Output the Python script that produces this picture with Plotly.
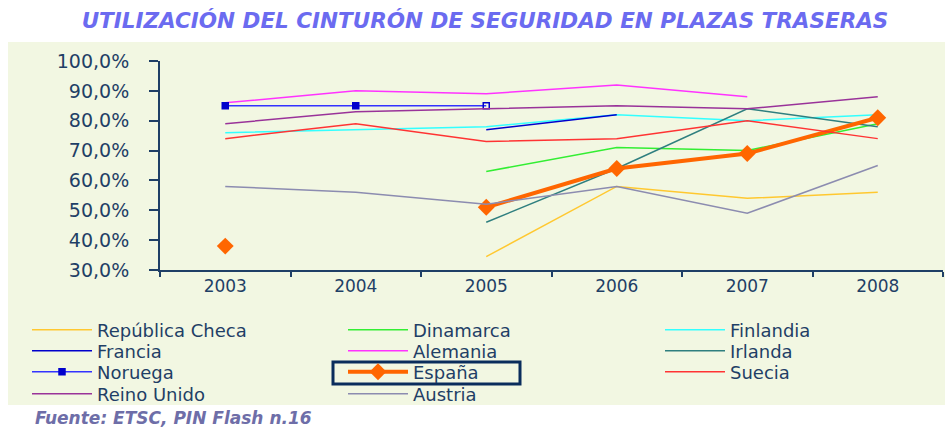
import plotly.graph_objects as go

years = ["2003", "2004", "2005", "2006", "2007", "2008"]
y_ticks = [30, 40, 50, 60, 70, 80, 90, 100]
y_tick_labels = ["30,0%", "40,0%", "50,0%", "60,0%", "70,0%", "80,0%", "90,0%", "100,0%"]

republica_checa = [None, None, 34.5, 58, 54, 56]
dinamarca = [None, None, 63, 71, 70, 79]
finlandia = [76, 77, 78, 82, 80, 82]
francia = [None, None, 77, 82, None, None]
alemania = [86, 90, 89, 92, 88, None]
irlanda = [None, None, 46, 64, 84, 78]
noruega = [85, 85, 85, None, None, None]
espana = [38, None, 51, 64, 69, 81]
suecia = [74, 79, 73, 74, 80, 74]
reino_unido = [79, 83, 84, 85, 84, 88]
austria = [58, 56, 52, 58, 49, 65]

TXT = "#1F3F66"
FONT = "DejaVu Sans"

W, H = 948, 428
ML, MR, MT, MB = 160, 5, 61, 158
PW = W - ML - MR
PH = H - MT - MB


def px_x(p):
    return (p - ML) / PW


def px_y(p):
    return (H - MB - p) / PH


# legend grid (pixel positions of each entry: left edge of legend box, row centre)
LEG_COLS = [27, 343, 660]
LEG_ROWS = [330, 351, 372, 394]

fig = go.Figure()
legend_layouts = {}
count = [0]


def add(name, vals, color, col, row, width=1.5, **kw):
    count[0] += 1
    lname = "legend" if count[0] == 1 else "legend%d" % count[0]
    fig.add_trace(go.Scatter(
        x=years, y=vals, name=name, mode=kw.pop("mode", "lines"),
        line=dict(color=color, width=width), legend=lname, showlegend=True, **kw))
    legend_layouts[lname] = dict(
        x=px_x(LEG_COLS[col]), y=px_y(LEG_ROWS[row]),
        xanchor="left", yanchor="middle", orientation="v", itemwidth=60,
        font=dict(family=FONT, size=18, color=TXT), bgcolor="rgba(0,0,0,0)",
        borderwidth=0, visible=True,
    )


add("República Checa", republica_checa, "#FFC830", 0, 0)
add("Dinamarca", dinamarca, "#33EE33", 1, 0)
add("Finlandia", finlandia, "#33FFFF", 2, 0)
add("Francia", francia, "#0000CC", 0, 1)
add("Alemania", alemania, "#FF33FF", 1, 1)
add("Irlanda", irlanda, "#2F7F7F", 2, 1)
add("Noruega", noruega, "#3333FF", 0, 2, mode="lines+markers",
    marker=dict(symbol=["square", "square", "square-open"], size=6,
                color="#0000CC", line=dict(color="#0000CC", width=1.5)))
add("España", espana, "#FF6600", 1, 2, width=4, mode="lines+markers",
    marker=dict(symbol="diamond", size=13, color="#FF6600"))
add("Suecia", suecia, "#FF3333", 2, 2)
add("Reino Unido", reino_unido, "#993399", 0, 3)
add("Austria", austria, "#8C8CB0", 1, 3)

fig.update_layout(
    width=W, height=H, autosize=False, showlegend=True,
    margin=dict(l=ML, r=MR, t=MT, b=MB, autoexpand=False),
    paper_bgcolor="white", plot_bgcolor="rgba(0,0,0,0)",
    title=dict(
        text="UTILIZACIÓN DEL CINTURÓN DE SEGURIDAD EN PLAZAS TRASERAS",
        xref="container", yref="container", x=485 / W, y=1 - 20 / H,
        xanchor="center", yanchor="middle",
        font=dict(family=FONT, size=21.5, color="#6B6BF0", weight="bold", style="italic"),
    ),
    xaxis=dict(
        type="category", range=[-0.5, 5.5], tickson="boundaries",
        ticks="outside", ticklen=5, tickcolor=TXT, tickwidth=1.5,
        showline=True, linecolor=TXT, linewidth=1.5, showgrid=False, zeroline=False,
        tickfont=dict(family=FONT, size=17, color=TXT),
    ),
    yaxis=dict(
        range=[30, 100], tickvals=y_ticks, ticktext=y_tick_labels,
        ticks="outside", ticklen=9, tickcolor=TXT, tickwidth=1.5,
        ticklabelstandoff=16,
        showline=True, linecolor=TXT, linewidth=2, showgrid=False, zeroline=False,
        tickfont=dict(family=FONT, size=19, color=TXT),
    ),
    shapes=[
        dict(type="rect", xref="paper", yref="paper", layer="below",
             x0=px_x(8), x1=px_x(945), y0=px_y(405), y1=px_y(42),
             fillcolor="#F2F7E2", line=dict(width=0)),
        dict(type="rect", xref="paper", yref="paper",
             x0=px_x(333), x1=px_x(520), y0=px_y(384), y1=px_y(362),
             line=dict(color="#0A2D5C", width=3)),
    ],
    annotations=[
        dict(text="Fuente: ETSC, PIN Flash n.16", xref="paper", yref="paper",
             x=px_x(33), y=px_y(418), xanchor="left", yanchor="middle",
             showarrow=False,
             font=dict(family=FONT, size=17, color="#6E6EA8", style="italic", weight="bold")),
    ],
)
fig.update_layout(**legend_layouts)

fig.write_html("out.html", config={"displayModeBar": False},
               post_script="document.body.style.margin='0px';")
